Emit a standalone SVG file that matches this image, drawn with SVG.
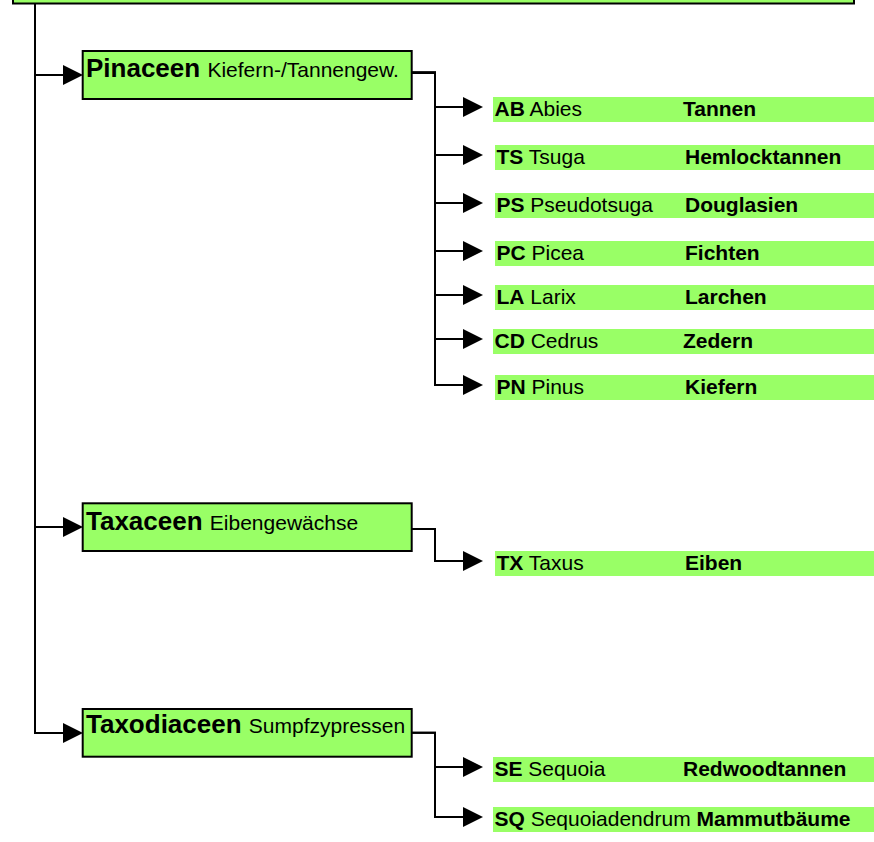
<svg xmlns="http://www.w3.org/2000/svg" width="874" height="842" viewBox="0 0 874 842">
<style>
.box{fill:#99ff66;stroke:#000;stroke-width:2}
.bar{fill:#99ff66;stroke:none}
.ln{fill:none;stroke:#000;stroke-width:2}
.arr{fill:none;stroke:#000;stroke-width:2;marker-end:url(#ah)}
text{font-family:"Liberation Sans",Arial,Helvetica,sans-serif;fill:#000}
.fam{font-size:26px;font-weight:bold}
.famd{font-size:21px;font-weight:normal}
.t{font-size:21px}
.b{font-weight:bold}
</style>
<defs>
<marker id="ah" markerUnits="userSpaceOnUse" markerWidth="20" markerHeight="20" refX="2" refY="10" orient="auto" overflow="visible">
<path d="M0,0 L20,10 L0,20 Z" fill="#000"/>
</marker>
</defs>
<rect fill="#fff" width="874" height="842"/>
<g id="root"><rect class="box" x="13" y="-40" width="841" height="43.5"/></g>
<g id="connectors">
<path class="arr" d="M35,3.5 V75 H65"/>
<path class="arr" d="M35,3.5 V527 H65"/>
<path class="arr" d="M35,3.5 V733 H65"/>
<path class="arr" d="M411.7,72.7 H435 V107 H465"/>
<path class="arr" d="M411.7,72.7 H435 V155 H465"/>
<path class="arr" d="M411.7,72.7 H435 V203 H465"/>
<path class="arr" d="M411.7,72.7 H435 V251 H465"/>
<path class="arr" d="M411.7,72.7 H435 V295 H465"/>
<path class="arr" d="M411.7,72.7 H435 V339 H465"/>
<path class="arr" d="M411.7,72.7 H435 V385 H465"/>
<path class="arr" d="M411.7,529 H435 V561 H465"/>
<path class="arr" d="M411.7,732.7 H435 V767 H465"/>
<path class="arr" d="M411.7,732.7 H435 V817 H465"/>
</g>
<g id="pinaceen"><rect class="box" x="82.7" y="51" width="329" height="48"/>
<text x="86" y="76.7" class="fam">Pinaceen <tspan class="famd">Kiefern-/Tannengew.</tspan></text></g>
<g id="taxaceen"><rect class="box" x="82.7" y="503.3" width="329" height="47.7"/>
<text x="86" y="530" class="fam">Taxaceen <tspan class="famd">Eibengewächse</tspan></text></g>
<g id="taxodiaceen"><rect class="box" x="82.7" y="709" width="329" height="47.7"/>
<text x="86" y="733.3" class="fam">Taxodiaceen <tspan class="famd">Sumpfzypressen</tspan></text></g>
<g id="ab"><rect class="bar" x="493" y="97" width="381" height="25"/><text class="t" x="494.5" y="116"><tspan class="b">AB</tspan> Abies</text><text class="t b" x="683" y="116">Tannen</text></g>
<g id="ts"><rect class="bar" x="495" y="145" width="379" height="25"/><text class="t" x="496.5" y="164"><tspan class="b">TS</tspan> Tsuga</text><text class="t b" x="685" y="164">Hemlocktannen</text></g>
<g id="ps"><rect class="bar" x="495" y="193" width="379" height="25"/><text class="t" x="496.5" y="212"><tspan class="b">PS</tspan> Pseudotsuga</text><text class="t b" x="685" y="212">Douglasien</text></g>
<g id="pc"><rect class="bar" x="495" y="241" width="379" height="25"/><text class="t" x="496.5" y="260"><tspan class="b">PC</tspan> Picea</text><text class="t b" x="685" y="260">Fichten</text></g>
<g id="la"><rect class="bar" x="495" y="285" width="379" height="25"/><text class="t" x="496.5" y="304"><tspan class="b">LA</tspan> Larix</text><text class="t b" x="685" y="304">Larchen</text></g>
<g id="cd"><rect class="bar" x="493" y="329" width="381" height="25"/><text class="t" x="494.5" y="348"><tspan class="b">CD</tspan> Cedrus</text><text class="t b" x="683" y="348">Zedern</text></g>
<g id="pn"><rect class="bar" x="495" y="375" width="379" height="25"/><text class="t" x="496.5" y="394"><tspan class="b">PN</tspan> Pinus</text><text class="t b" x="685" y="394">Kiefern</text></g>
<g id="tx"><rect class="bar" x="495" y="551" width="379" height="25"/><text class="t" x="496.5" y="570"><tspan class="b">TX</tspan> Taxus</text><text class="t b" x="685" y="570">Eiben</text></g>
<g id="se"><rect class="bar" x="493" y="757" width="381" height="25"/><text class="t" x="494.5" y="776"><tspan class="b">SE</tspan> Sequoia</text><text class="t b" x="683" y="776">Redwoodtannen</text></g>
<g id="sq"><rect class="bar" x="493" y="807" width="381" height="25"/><text class="t" x="494.5" y="826"><tspan class="b">SQ</tspan> Sequoiadendrum <tspan class="b">Mammutbäume</tspan></text></g>
</svg>
